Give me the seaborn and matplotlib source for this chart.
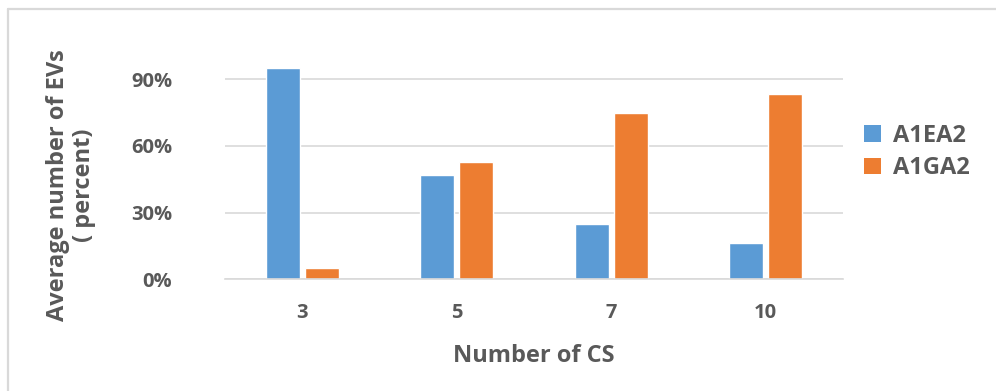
import matplotlib
matplotlib.use("Agg")
import matplotlib.pyplot as plt
from matplotlib.patches import Patch
from matplotlib.lines import Line2D
from matplotlib.ticker import FixedLocator, FuncFormatter
import pandas as pd
import seaborn as sns

# Share of EVs (percent) per number of charging stations
cs_counts = ["3", "5", "7", "10"]
a1ea2 = [95, 47, 25, 16.5]
a1ga2 = [5, 53, 75, 83.5]
methods = ["A1EA2", "A1GA2"]
yticks = [0, 30, 60, 90]

colors = {"A1EA2": "#5B9BD5", "A1GA2": "#ED7D31"}
text_gray = "#595959"
grid_gray = "#D9D9D9"

df = pd.DataFrame({
    "cs": cs_counts * 2,
    "method": [methods[0]] * len(cs_counts) + [methods[1]] * len(cs_counts),
    "value": a1ea2 + a1ga2,
})

sns.set_theme(style="white")
plt.rcParams["font.family"] = ["Open Sans", "DejaVu Sans"]
plt.rcParams["font.weight"] = "bold"

fig = plt.figure(figsize=(9.96, 3.91), dpi=100)
ax = fig.add_axes([225 / 996, 1 - 279.3 / 391, (843 - 225) / 996, 222.2 / 391])

sns.barplot(data=df, x="cs", y="value", hue="method", order=cs_counts,
            hue_order=methods, palette=colors, width=0.5, gap=0.12,
            saturation=1, legend=False, ax=ax)

ax.set_ylim(0, 100)
ax.set_xlim(-0.5, len(cs_counts) - 0.5)
ax.yaxis.set_major_locator(FixedLocator(yticks))
ax.yaxis.set_major_formatter(FuncFormatter(lambda v, _: f"{v:.0f}%"))
ax.grid(axis="y", color=grid_gray, linewidth=1.2)
ax.set_axisbelow(True)
for side in ["top", "right", "left"]:
    ax.spines[side].set_visible(False)
ax.spines["bottom"].set_color(grid_gray)
ax.spines["bottom"].set_linewidth(1.2)

ax.tick_params(axis="both", length=0, labelsize=14.5, labelcolor=text_gray)
ax.tick_params(axis="x", pad=17)
ax.tick_params(axis="y", pad=38)
for lab in ax.get_xticklabels() + ax.get_yticklabels():
    lab.set_fontweight("bold")

ax.set_xlabel("Number of CS", fontsize=17, fontweight="bold", color=text_gray, labelpad=15)
ax.set_ylabel("")
fig.text(71 / 996, 1 - 185 / 391, "Average number of EVs\n( percent)",
         rotation=90, ha="center", va="center", multialignment="center",
         fontsize=17, fontweight="bold", color=text_gray, linespacing=1.15)

handles = [Patch(facecolor=colors[m], edgecolor="none", label=m) for m in methods]
fig.legend(handles=handles, loc="center left",
           bbox_to_anchor=(843 / 996, 1 - 152 / 391), frameon=False,
           prop={"size": 17, "weight": "bold"}, labelcolor=text_gray,
           handlelength=0.7, handleheight=0.7, handletextpad=0.5,
           labelspacing=0.35)

# light frame along the top and left edges
fig.add_artist(Line2D([7.5 / 996, 1], [1 - 8.5 / 391, 1 - 8.5 / 391],
                      transform=fig.transFigure, color=grid_gray, linewidth=1.6))
fig.add_artist(Line2D([7.5 / 996, 7.5 / 996], [0, 1 - 8.5 / 391],
                      transform=fig.transFigure, color=grid_gray, linewidth=1.6))

fig.savefig("out.png", dpi=100, facecolor="white")
